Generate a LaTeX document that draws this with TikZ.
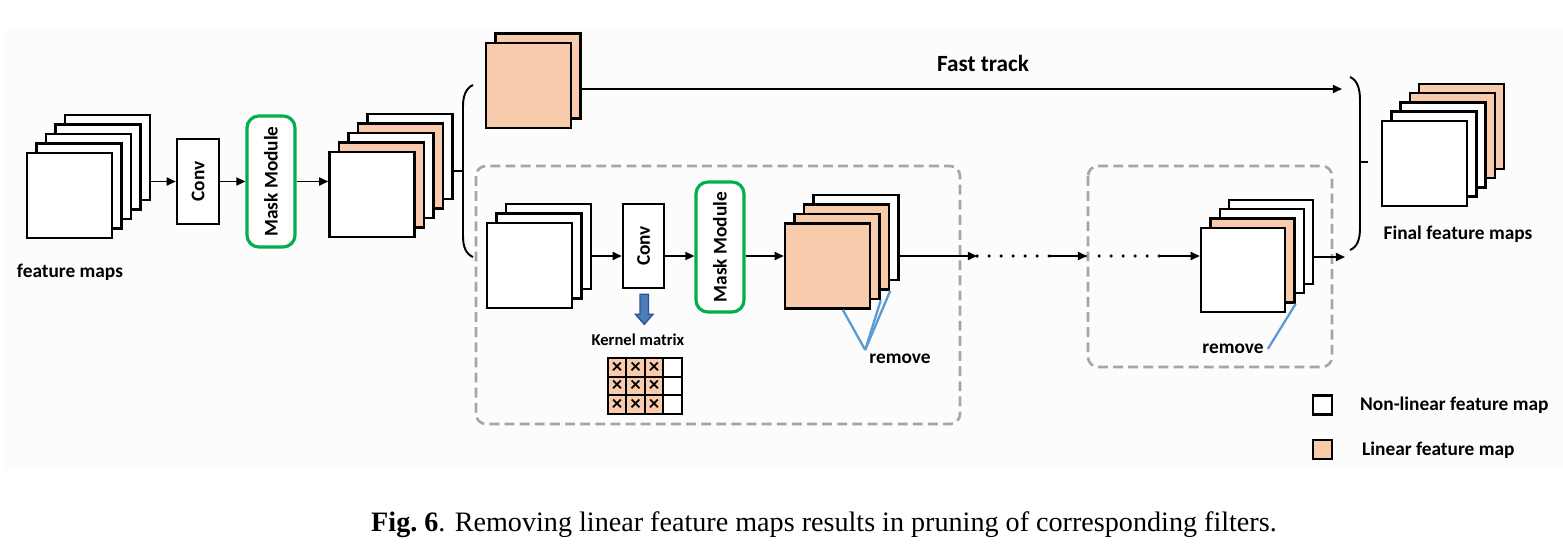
\documentclass[tikz,border=0pt]{standalone}
\usepackage{fontspec}
\usepackage{graphicx}
\setmainfont{Liberation Serif}
\newfontfamily\calib{Carlito}
\usetikzlibrary{arrows, arrows.meta}
\usetikzlibrary{calc}

\definecolor{lin}{HTML}{F8CBAD}
\definecolor{non}{HTML}{FFFFFF}
\definecolor{maskgreen}{HTML}{00B050}
\definecolor{boxgray}{HTML}{A6A6A6}
\definecolor{rmblue}{HTML}{5B9BD5}
\definecolor{kblue}{HTML}{4A7EBB}
\definecolor{kblueline}{HTML}{2F528F}
\definecolor{bgpaper}{HTML}{FCFCFC}

\tikzset{
  fmap/.style={draw, line width=0.7pt, inner sep=0pt, minimum size=0.85cm},
  convbox/.style={draw, line width=0.7pt, fill=white, inner sep=0pt, minimum width=0.42cm, minimum height=0.85cm, font=\calib\bfseries\fontsize{5.5}{6}\selectfont},
  maskbox/.style={draw=maskgreen, line width=0.9pt, rounded corners=0.12cm, fill=white, inner sep=0pt, minimum width=0.48cm, minimum height=1.31cm, font=\calib\bfseries\fontsize{5.5}{6}\selectfont},
  lbl/.style={inner sep=1pt, font=\calib\bfseries\fontsize{5.5}{6}\selectfont},
  arr/.style={line width=0.5pt, -{Triangle[length=2.6pt, width=2.3pt]}},
  dots/.style={line width=1pt, line cap=round, dash pattern=on 0pt off 0.12cm},
  dashbox/.style={draw=boxgray, line width=0.75pt, dash pattern=on 2.8pt off 1.5pt, rounded corners=0.1cm},
  cell/.style={draw, line width=0.65pt, inner sep=0pt, minimum size=0.185cm, font=\calib\bfseries\fontsize{6}{6}\selectfont},
  rmline/.style={draw=rmblue, line width=0.65pt},
  blockarr/.style={draw=kblueline, fill=kblue, line width=0.4pt},
  legbox/.style={draw, line width=0.7pt, inner sep=0pt, minimum size=0.19cm}
}

\begin{document}
\begin{tikzpicture}[x=0.01cm, y=-0.01cm]
      \useasboundingbox (0,0) rectangle (1563,548);
      \fill[bgpaper] (5,28) rectangle (1563,470);

      % input stack, conv and mask module
      \foreach \c [count=\i] in {non,non,non,non,non}
        \node[fmap, fill=\c] (in\i) at ({69.5+(5-\i)*9.5},{195.5-(5-\i)*9.5}) {};
      \node[lbl] (intxt) at (70,272) {feature maps};
      \node[convbox] (conv1) at (198,181.5) {\rotatebox{90}{Conv}};
      \node[maskbox] (mask1) at (271,181.5) {\rotatebox{90}{Mask Module}};
      \foreach \c [count=\i] in {non,lin,non,lin,non}
        \node[fmap, fill=\c] (mid\i) at ({372+(5-\i)*9.5},{194.5-(5-\i)*9.5}) {};

      \draw[arr] (conv1.west -| in1.east) -- (conv1.west);
      \draw[arr] (conv1.east) -- (mask1.west);
      \draw[arr] (mask1.east) -- (mask1.east -| mid5.west);

      % left brace
      \draw[line width=0.55pt] (473,85) .. controls (466,88) and (463,96) .. (463,106) -- (463,236) .. controls (463,247) and (466,254) .. (473,257);
      \coordinate (lbrace) at (463,171);
      \draw[line width=0.55pt] (lbrace -| mid1.east) -- (lbrace);

      % fast track
      \foreach \c [count=\i] in {lin,lin}
        \node[fmap, fill=\c] (fast\i) at ({528.5+(2-\i)*9.5},{85.5-(2-\i)*9.5}) {};
      \coordinate (fastend) at (1342,89);
      \draw[arr] (fastend -| fast1.east) -- (fastend);
      \node[lbl, font=\calib\bfseries\fontsize{6.6}{7}\selectfont] (fasttxt) at (983,63) {Fast track};

      % first pruned block
      \draw[dashbox] (476,166) rectangle (960,424);
      \foreach \c [count=\i] in {non,non,non}
        \node[fmap, fill=\c] (c\i) at ({529.5+(3-\i)*9.5},{265.5-(3-\i)*9.5}) {};
      \node[convbox, minimum width=0.41cm, minimum height=0.84cm] (conv2) at (643.5,246) {\rotatebox{90}{Conv}};
      \node[maskbox, minimum height=1.30cm] (mask2) at (720,247) {\rotatebox{90}{Mask Module}};
      \foreach \c [count=\i] in {non,lin,lin,lin}
        \node[fmap, fill=\c] (d\i) at ({827.5+(4-\i)*9.5},{266-(4-\i)*9.5}) {};

      \coordinate (row) at (0,256);
      \draw[arr] (row -| c1.east) -- (row -| conv2.west);
      \draw[arr] (row -| conv2.east) -- (row -| mask2.west);
      \draw[arr] (row -| mask2.east) -- (row -| d4.west);

      % kernel matrix
      \draw[blockarr] ($(conv2.south)+(-3.5,5)$) -- ++(8.5,0) -- ++(0,20) -- ++(4.5,0) -- ++(-8.75,10) -- ++(-8.75,-10) -- ++(4.5,0) -- cycle;
      \node[lbl, font=\calib\bfseries\fontsize{4.7}{5}\selectfont] (ktxt) at (638,340) {Kernel matrix};
      \foreach \r in {0,1,2}
        \foreach \k/\f/\t in {0/lin/×,1/lin/×,2/lin/×,3/white/{}}
          \node[cell, fill=\f] (k\r\k) at ({617+\k*18.5},{367.5+\r*18.5}) {\t};

      \node[lbl] (rm1) at (900,359) {remove};
      \draw[rmline] (rm1.north west) -- ($(d4.south)!0.35!(d4.south east)$);
      \draw[rmline] (rm1.north west) -- (d3.south east);
      \draw[rmline] (rm1.north west) -- (d2.south east);

      % dotted repetition
      \coordinate (dot1) at (977,256);
      \coordinate (dot2) at (1050,256);
      \coordinate (dot3) at (1087,256);
      \coordinate (dot4) at (1160,256);
      \draw[arr] (row -| d1.east) -- (dot1);
      \draw[dots] (dot1) -- (dot2);
      \draw[arr] (dot2) -- (dot3);
      \draw[dots] (dot3) -- (dot4);

      % last pruned block
      \draw[dashbox] (1088,166) rectangle (1332,367);
      \foreach \c [count=\i] in {non,non,lin,non}
        \node[fmap, fill=\c, minimum size=0.84cm] (e\i) at ({1243+(4-\i)*9.4},{270-(4-\i)*9.4}) {};
      \draw[arr] (dot4) -- (dot4 -| e4.west);
      \coordinate (eout) at (1345,257);
      \draw[arr] (eout -| e1.east) -- (eout);
      \node[lbl] (rm2) at (1233,349) {remove};
      \draw[rmline] (rm2.east) -- (e3.south east);

      % right brace and final maps
      \draw[line width=0.55pt] (1350,77) .. controls (1357,80) and (1360,88) .. (1360,100) -- (1360,228) .. controls (1360,240) and (1357,247) .. (1350,250);
      \coordinate (rbrace) at (1360,162);
      \coordinate (rtick) at (1368,162);
      \draw[line width=0.55pt] (rbrace) -- (rtick);
      \foreach \c [count=\i] in {lin,lin,non,non,non}
        \node[fmap, fill=\c] (g\i) at ({1424.5+(5-\i)*9.3},{163.5-(5-\i)*9.3}) {};
      \node[lbl] (gtxt) at (1458,234) {Final feature maps};

      % legend
      \node[legbox, fill=non] (leg1) at (1322.5,405) {};
      \node[lbl, anchor=west] (leg1txt) at (1356,405) {Non-linear feature map};
      \node[legbox, fill=lin] (leg2) at (1322.5,449.5) {};
      \node[lbl, anchor=west] (leg2txt) at (1358,450) {Linear feature map};

      \node[anchor=base, inner sep=0pt, font=\fontsize{8}{9.6}\selectfont] (caption) at (824,531) {\textbf{Fig.\ 6}. Removing linear feature maps results in pruning of corresponding filters.};
    \end{tikzpicture}
\end{document}
